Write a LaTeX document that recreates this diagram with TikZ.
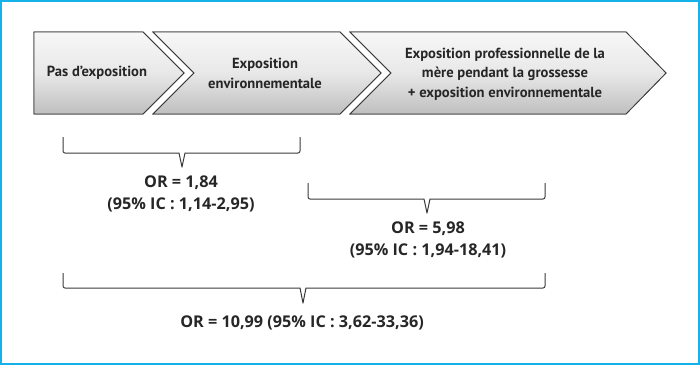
\documentclass[tikz,border=0pt]{standalone}
\usepackage{fontspec}
\setmainfont{PT Sans}
\newfontfamily\orfont{Open Sans}
\definecolor{frameblue}{HTML}{14B2E8}
\definecolor{edgegray}{HTML}{3A3A3A}
\definecolor{txt}{HTML}{262626}
\tikzset{
  chev/.style={draw=edgegray, line width=0.8pt, top color=gray!6, bottom color=gray!50, middle color=gray!18},
  lbl/.style={text=txt, font=\bfseries\fontsize{14.6}{19.5}\selectfont, align=center, inner sep=0pt},
  orl/.style={lbl, font=\orfont\bfseries\fontsize{16.2}{22}\selectfont},
  brc/.style={draw=edgegray, line width=1pt, line join=round},
}
\begin{document}
\begin{tikzpicture}[x=1pt,y=-1pt]
\useasboundingbox (0,0) rectangle (700,365);
\draw[frameblue, line width=1.6pt] (0.8,0.8) rectangle (699.2,364.2);
% chevrons
\shade[chev] (34,32) -- (143,32) -- (184,73) -- (143,114) -- (34,114) -- cycle;
\shade[chev] (153,32) -- (340,32) -- (381,73) -- (340,114) -- (153,114) -- (194,73) -- cycle;
\shade[chev] (350,32) -- (626,32) -- (666,73) -- (626,114) -- (350,114) -- (391,73) -- cycle;
\draw[chev, fill=none] (34,32) -- (143,32) -- (184,73) -- (143,114) -- (34,114) -- cycle;
\draw[chev, fill=none] (153,32) -- (340,32) -- (381,73) -- (340,114) -- (153,114) -- (194,73) -- cycle;
\draw[chev, fill=none] (350,32) -- (626,32) -- (666,73) -- (626,114) -- (350,114) -- (391,73) -- cycle;
\node[lbl] (t1) at (97,73) {Pas d’exposition};
\node[lbl] (t2) at (265,73.5) {Exposition\\environnementale};
\node[lbl] (t3) at (505,74) {Exposition professionnelle de la\\mère pendant la grossesse\\+ exposition environnementale};
% braces
\coordinate (b1l) at (63,137); \coordinate (b1r) at (300,137); \coordinate (b1t) at (182,167);
\draw[brc] (b1l) -- (63,151) arc[start angle=180,end angle=90,radius=2] -- (179,153) -- (b1t) -- (185,153) -- (298,153) arc[start angle=90,end angle=0,radius=2] -- (b1r);
\coordinate (b2l) at (308,183); \coordinate (b2r) at (545,183); \coordinate (b2t) at (427,213);
\draw[brc] (b2l) -- (308,197) arc[start angle=180,end angle=90,radius=2] -- (424,199) -- (b2t) -- (430,199) -- (543,199) arc[start angle=90,end angle=0,radius=2] -- (b2r);
\coordinate (b3l) at (63,273); \coordinate (b3r) at (545,273); \coordinate (b3t) at (303,303);
\draw[brc] (b3l) -- (63,286) arc[start angle=180,end angle=90,radius=2] -- (300,288) -- (b3t) -- (306,288) -- (543,288) arc[start angle=90,end angle=0,radius=2] -- (b3r);
% labels
\node[orl] (o1) at (181,194) {OR = 1,84\\(95\% IC : 1,14-2,95)};
\node[orl] (o2) at (428,240) {OR = 5,98\\(95\% IC : 1,94-18,41)};
\node[orl] (o3) at (302,323) {OR = 10,99 (95\% IC : 3,62-33,36)};
\end{tikzpicture}
\end{document}
